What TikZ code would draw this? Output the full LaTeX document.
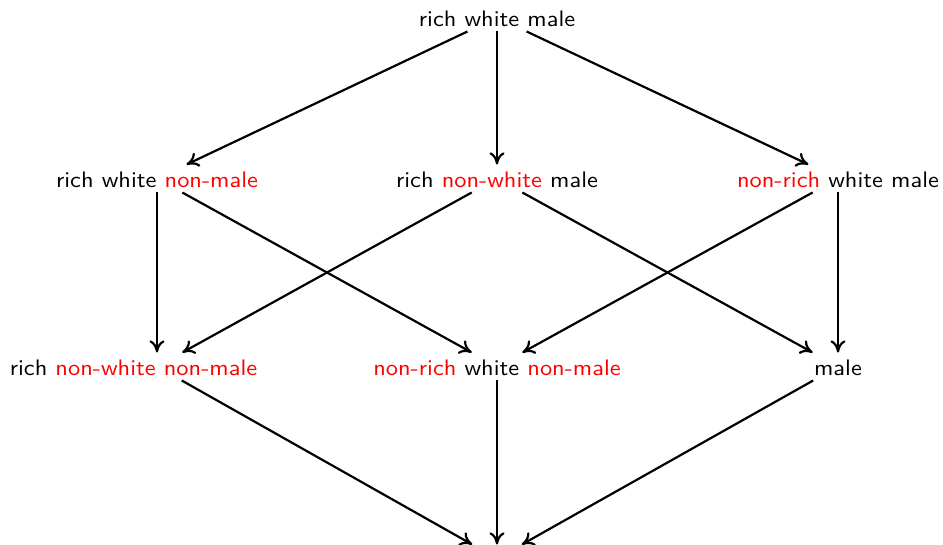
\documentclass[tikz,border=0pt]{standalone}
\usepackage{graphicx}
\usetikzlibrary{arrows.meta}
\newcommand\sqz[1]{\scalebox{1}[0.92]{#1}}
\begin{document}
\begin{tikzpicture}[x=0.41pt,y=-0.41pt,
  lbl/.style={anchor=base,inner sep=0pt,text height=9.02pt,text depth=2.05pt,minimum width=24.6pt,font=\sffamily},
  arr/.style={-{To[length=5pt,width=6.2pt]},line width=0.9pt}]
\useasboundingbox (0,0) rectangle (943,544);
\node[lbl] (top) at (497,26) {\sqz{rich white male}};
\node[lbl] (lm) at (157,187) {\sqz{rich white \textcolor{red}{non-male}}};
\node[lbl] (mm) at (497,187) {\sqz{rich \textcolor{red}{non-white} male}};
\node[lbl] (rm) at (838,187) {\sqz{\textcolor{red}{non-rich} white male}};
\node[lbl] (bl) at (157,375) {\hspace*{-19.3pt}\sqz{rich \textcolor{red}{non-white non-male}}};
\node[lbl] (bm) at (497,375) {\sqz{\textcolor{red}{non-rich} white \textcolor{red}{non-male}}};
\node[lbl] (br) at (838,375) {\sqz{male}};
\node[lbl] (bot) at (497,567) {};
\draw[arr] (top) -- (lm);
\draw[arr] (top) -- (mm);
\draw[arr] (top) -- (rm);
\draw[arr] (lm) -- (bl);
\draw[arr] (lm) -- (bm);
\draw[arr] (mm) -- (bl);
\draw[arr] (mm) -- (br);
\draw[arr] (rm) -- (bm);
\draw[arr] (rm) -- (br);
\draw[arr] (bl) -- (bot);
\draw[arr] (bm) -- (bot);
\draw[arr] (br) -- (bot);
\end{tikzpicture}
\end{document}
